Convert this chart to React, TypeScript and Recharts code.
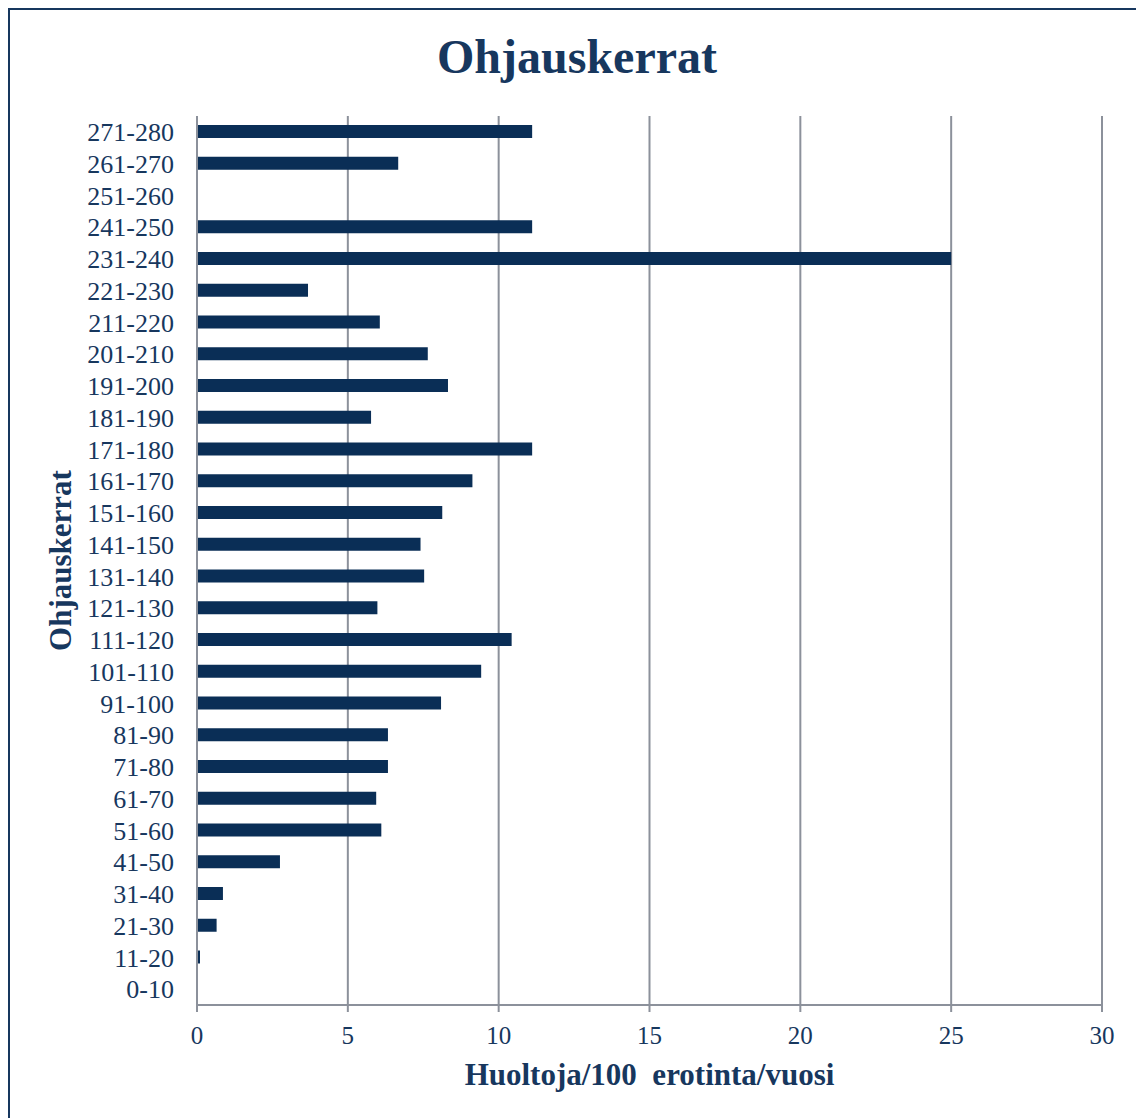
import { BarChart, Bar, XAxis, YAxis, CartesianGrid, Label } from 'recharts'

const ranges = [
  '0-10', '11-20', '21-30', '31-40', '41-50', '51-60', '61-70', '71-80', '81-90', '91-100',
  '101-110', '111-120', '121-130', '131-140', '141-150', '151-160', '161-170', '171-180',
  '181-190', '191-200', '201-210', '211-220', '221-230', '231-240', '241-250', '251-260',
  '261-270', '271-280',
]

const huollot = [
  0, 0.1, 0.65, 0.86, 2.75, 6.11, 5.94, 6.33, 6.33, 8.09,
  9.42, 10.43, 5.98, 7.53, 7.41, 8.13, 9.13, 11.11,
  5.77, 8.32, 7.65, 6.06, 3.68, 25, 11.11, 0,
  6.67, 11.11,
]

const xTicks = [0, 5, 10, 15, 20, 25, 30]

const title = 'Ohjauskerrat'
const xTitle = 'Huoltoja/100\u00a0 erotinta/vuosi'
const yTitle = 'Ohjauskerrat'

const data = ranges.map((range, i) => ({ range, value: huollot[i] }))
// tick marks between categories, like in the original
const edgeTicks = ranges.map((_, i) => i).concat(ranges.length)

const NAVY = '#17375e'
const BAR = '#0a2e56'
const GRAY = '#8c919b'
const FONT = '"Liberation Serif", "Times New Roman", serif'

export default function App() {
  return (
    <div
      style={{
        width: 1134,
        height: 1110,
        border: `2px solid ${NAVY}`,
        borderBottom: 'none',
        boxSizing: 'border-box',
        position: 'relative',
        background: '#fff',
      }}
    >
      <svg width={1130} height={90} style={{ position: 'absolute', left: 0, top: 0 }}>
        <text x={567} y={63} textAnchor="middle" fontFamily={FONT} fontWeight="bold" fontSize={48} fill={NAVY}>
          {title}
        </text>
      </svg>
      <BarChart
        width={1130}
        height={1106}
        data={data}
        layout="vertical"
        margin={{ top: 106, right: 38, bottom: 51, left: 0 }}
      >
        <CartesianGrid yAxisId="b" horizontal={false} stroke={GRAY} strokeWidth={2} />
        <YAxis
          yAxisId="a"
          type="number"
          domain={[0, ranges.length]}
          ticks={edgeTicks}
          width={1}
          tick={false}
          tickSize={7}
          axisLine={{ stroke: GRAY, strokeWidth: 2 }}
          tickLine={{ stroke: GRAY, strokeWidth: 2 }}
        />
        <YAxis
          yAxisId="b"
          type="category"
          dataKey="range"
          reversed
          width={186}
          interval={0}
          axisLine={false}
          tickLine={false}
          tickSize={7}
          tickMargin={15}
          tick={{ fill: NAVY, fontSize: 26, fontFamily: FONT }}
        >
          <Label
            content={(props: any) => {
              const vb = props.viewBox
              const cy = vb.y + vb.height / 2
              return (
                <text
                  x={61}
                  y={cy}
                  transform={`rotate(-90, 61, ${cy})`}
                  textAnchor="middle"
                  fontFamily={FONT}
                  fontWeight="bold"
                  fontSize={31}
                  fill={NAVY}
                >
                  {yTitle}
                </text>
              )
            }}
          />
        </YAxis>
        <XAxis
          type="number"
          domain={[0, 30]}
          ticks={xTicks}
          height={60}
          tickSize={7}
          tickMargin={14}
          axisLine={{ stroke: GRAY, strokeWidth: 2 }}
          tickLine={{ stroke: GRAY, strokeWidth: 2 }}
          tick={{ fill: NAVY, fontSize: 25, fontFamily: FONT }}
        >
          <Label
            content={(props: any) => {
              const vb = props.viewBox
              return (
                <text
                  x={vb.x + vb.width / 2}
                  y={vb.y + 80}
                  textAnchor="middle"
                  fontFamily={FONT}
                  fontWeight="bold"
                  fontSize={31}
                  fill={NAVY}
                >
                  {xTitle}
                </text>
              )
            }}
          />
        </XAxis>
        <Bar yAxisId="b" dataKey="value" fill={BAR} barSize={13} isAnimationActive={false} />
      </BarChart>
    </div>
  )
}
